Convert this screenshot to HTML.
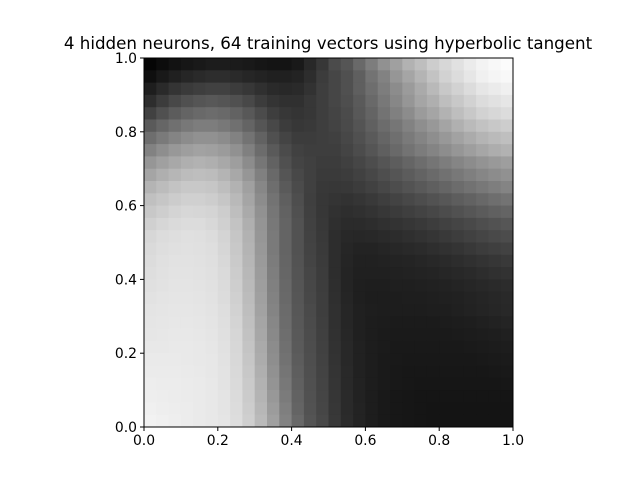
<!DOCTYPE html>
<html><head><meta charset="utf-8"><style>
body{margin:0;background:#fff;}
svg{display:block;font-family:"DejaVu Sans","Liberation Sans",sans-serif;}
</style></head><body>
<svg id="chart" width="640" height="480" viewBox="0 0 640 480">
<rect width="640" height="480" fill="#fff"/>
<text x="328" y="49" text-anchor="middle" font-size="16.7">4 hidden neurons, 64 training vectors using hyperbolic tangent</text>
<g id="cells"></g>
<rect x="144" y="58" width="369" height="369" fill="none" stroke="#000" stroke-width="1"/>
<g id="axes"></g>
</svg>
<script>
// Gray intensity (0-255) per cell; rows from top (y=1) to bottom (y=0), cols x=0..1
const leftRows = [
"5,12,18,22,25,28,28,27,25,22,20,20,25,40,55",
"15,25,32,38,42,45,45,42,38,35,32,32,35,45,60",
"30,42,52,58,62,65,65,60,55,48,42,40,42,50,62",
"45,60,72,80,85,88,85,80,72,60,52,48,48,55,62",
"65,80,92,100,105,108,105,98,88,75,62,55,52,55,62",
"90,102,112,120,125,125,120,112,100,85,72,60,55,57,62",
"110,122,132,140,145,145,140,130,115,98,80,68,60,60,62",
"130,142,152,158,162,160,155,145,128,108,90,75,65,62,62",
"150,160,168,175,178,175,168,158,140,118,98,80,68,64,60",
"165,175,182,188,190,188,180,168,150,128,105,85,72,64,58",
"180,188,195,200,200,198,190,178,160,135,110,90,75,64,56",
"192,198,204,208,208,205,198,185,165,140,115,95,78,63,55",
"200,206,212,215,214,212,205,190,170,145,118,98,80,64,55",
"208,214,218,220,220,216,208,195,175,148,120,100,82,65,56",
"215,220,222,224,223,220,212,198,178,150,122,100,82,66,57",
"218,222,224,225,224,222,214,200,180,152,122,100,82,67,58",
"220,224,226,226,225,223,216,202,182,154,124,101,83,68,59",
"222,225,227,227,226,224,218,204,184,156,126,102,84,70,60",
"224,226,228,228,227,225,219,206,186,158,128,104,85,71,61",
"226,228,229,229,228,226,220,208,188,160,130,105,86,72,62",
"228,229,230,230,229,227,222,210,190,162,132,107,87,74,62",
"229,230,231,231,230,228,223,212,192,165,135,108,88,75,63",
"230,231,232,232,231,229,224,214,194,167,137,110,89,76,64",
"232,232,233,233,232,230,225,215,196,170,140,112,90,77,65",
"234,234,234,233,232,231,226,216,198,172,142,114,92,78,66",
"235,235,235,234,233,231,227,217,200,175,145,117,94,79,67",
"237,236,236,235,234,232,227,218,202,178,148,120,96,80,68",
"238,237,236,235,234,232,228,219,203,180,152,123,98,81,69",
"240,238,237,236,234,232,228,220,205,183,156,127,100,82,70",
"242,240,238,236,234,232,229,221,207,186,160,130,104,84,72"
];
const rightRows = [
"75,85,105,125,145,160,178,190,205,215,225,235,243,248,252",
"70,80,95,115,130,150,165,180,195,210,220,230,240,245,248",
"70,80,95,110,125,140,155,170,185,200,210,220,230,235,240",
"70,78,90,105,120,135,150,165,175,190,200,210,220,225,230",
"68,75,88,100,115,128,140,155,165,178,190,200,210,215,220",
"67,74,84,96,108,118,130,142,152,164,176,186,194,200,205",
"64,71,80,90,101,111,122,132,142,152,162,171,180,186,191",
"62,68,76,85,95,105,115,124,132,141,150,158,166,173,178",
"60,64,70,77,85,93,101,109,117,125,133,140,147,153,158",
"58,60,65,71,78,85,92,99,106,113,120,127,134,140,145",
"55,56,60,65,71,77,83,89,95,101,108,114,120,126,132",
"52,50,53,57,62,67,72,77,82,87,93,98,104,110,115",
"49,46,48,51,55,59,63,67,71,76,81,86,91,96,100",
"47,43,43,45,48,51,54,57,61,65,69,73,78,82,86",
"45,40,39,40,42,44,47,50,53,57,61,65,69,73,76",
"45,38,35,35,37,39,41,43,46,49,52,56,60,63,66",
"45,37,33,33,34,35,36,38,40,42,45,48,51,54,57",
"45,36,32,32,32,33,34,35,36,38,40,42,45,48,50",
"46,36,31,30,30,31,31,32,33,34,36,38,40,42,44",
"47,37,31,29,29,29,30,30,31,32,33,35,37,39,41",
"48,38,32,30,29,29,29,29,30,30,32,34,36,38,40",
"48,38,32,29,28,27,27,27,27,28,29,30,32,34,36",
"49,39,32,29,27,26,26,26,26,26,27,28,29,30,32",
"50,40,33,29,27,25,25,25,25,25,25,26,27,28,29",
"51,40,33,29,26,25,24,24,24,24,24,24,25,26,27",
"52,41,33,29,26,24,23,23,23,23,23,23,23,24,25",
"53,41,34,29,26,24,23,22,22,22,22,22,22,22,23",
"54,42,34,29,25,23,22,21,21,21,21,21,21,21,21",
"55,42,35,29,25,23,22,21,20,20,20,20,20,20,20",
"56,43,35,29,25,23,22,21,20,20,20,20,20,20,20"
];
const xTicks = [0, 0.2, 0.4, 0.6, 0.8, 1.0];
const yTicks = [0, 0.2, 0.4, 0.6, 0.8, 1.0];
const tickLabels = ["0.0", "0.2", "0.4", "0.6", "0.8", "1.0"];

const NS = "http://www.w3.org/2000/svg";
const X0 = 144, X1 = 513, Y0 = 427, Y1 = 58;
const xScale = v => X0 + v * (X1 - X0);
const yScale = v => Y0 - v * (Y0 - Y1);
const grid = leftRows.map((r, i) => (r + "," + rightRows[i]).split(",").map(Number));
const nRows = grid.length, nCols = grid[0].length;
const cells = document.getElementById("cells");
grid.forEach((row, i) => {
  row.forEach((g, j) => {
    const xa = xScale(j / nCols), xb = xScale((j + 1) / nCols);
    const ya = yScale(1 - i / nRows), yb = yScale(1 - (i + 1) / nRows);
    const r = document.createElementNS(NS, "rect");
    r.setAttribute("x", xa); r.setAttribute("y", ya);
    r.setAttribute("width", xb - xa + 0.5); r.setAttribute("height", yb - ya + 0.5);
    const c = Math.max(0, Math.min(255, Math.round(g)));
    r.setAttribute("fill", `rgb(${c},${c},${c})`);
    
    
    cells.appendChild(r);
  });
});
const axes = document.getElementById("axes");
xTicks.forEach((t, k) => {
  const x = xScale(t);
  const l = document.createElementNS(NS, "line");
  l.setAttribute("x1", x); l.setAttribute("x2", x); l.setAttribute("y1", Y0); l.setAttribute("y2", Y0 + 4);
  l.setAttribute("stroke", "#000");
  
  
  axes.appendChild(l);
  const tx = document.createElementNS(NS, "text");
  tx.setAttribute("x", x); tx.setAttribute("y", Y0 + 18); tx.setAttribute("text-anchor", "middle");
  tx.setAttribute("font-size", "13.9");
  tx.textContent = tickLabels[k];
  
  
  axes.appendChild(tx);
});
yTicks.forEach((t, k) => {
  const y = yScale(t);
  const l = document.createElementNS(NS, "line");
  l.setAttribute("x1", X0 - 4); l.setAttribute("x2", X0); l.setAttribute("y1", y); l.setAttribute("y2", y);
  l.setAttribute("stroke", "#000");
  
  
  axes.appendChild(l);
  const tx = document.createElementNS(NS, "text");
  tx.setAttribute("x", X0 - 7); tx.setAttribute("y", y + 5); tx.setAttribute("text-anchor", "end");
  tx.setAttribute("font-size", "13.9");
  tx.textContent = tickLabels[k];
  
  
  axes.appendChild(tx);
});
</script>
</body></html>
